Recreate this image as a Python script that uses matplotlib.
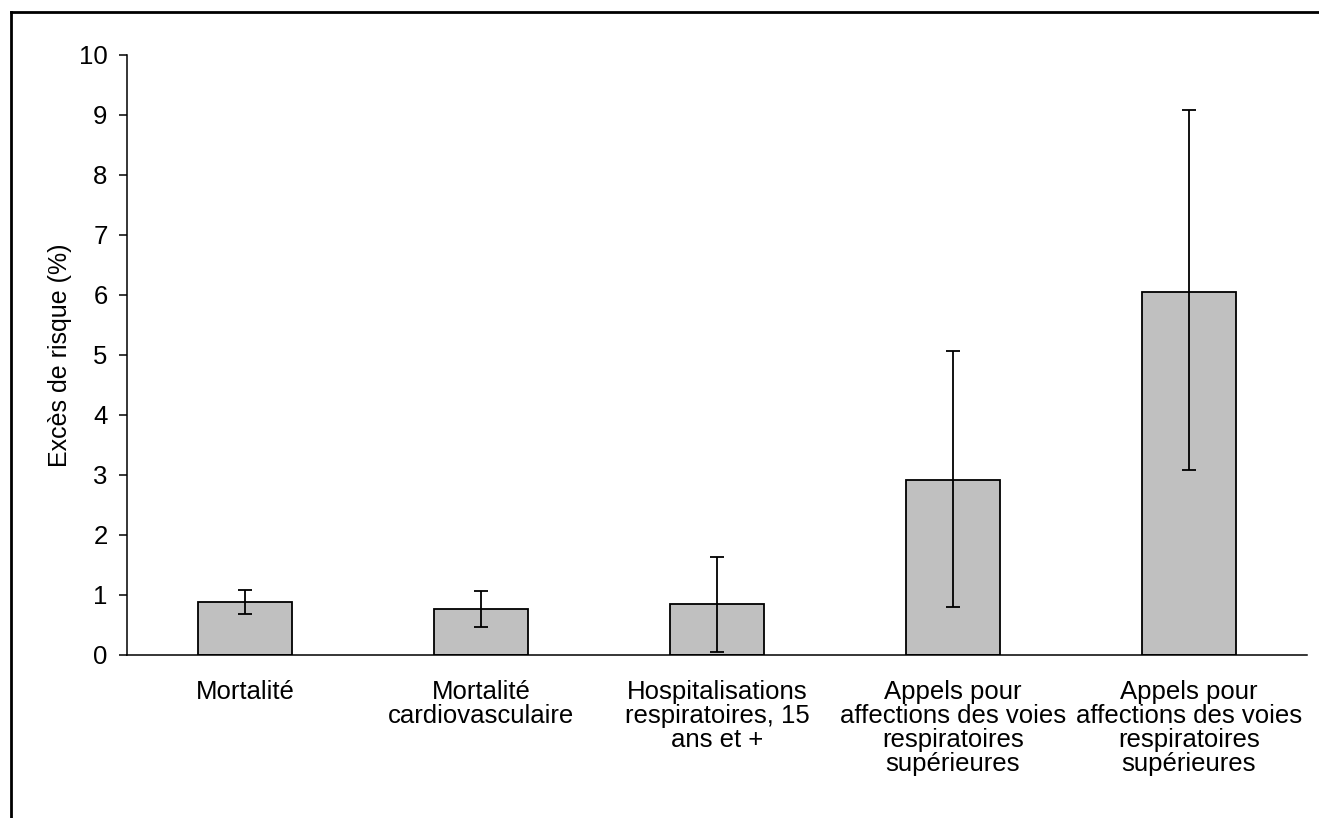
import matplotlib
matplotlib.use("Agg")
import matplotlib.pyplot as plt
from matplotlib.lines import Line2D
import numpy as np

plt.rcParams['font.family'] = ['Liberation Sans', 'DejaVu Sans']

# categories and values (excess risk, %)
categories = ['Mortalité',
              'Mortalité\ncardiovasculaire',
              'Hospitalisations\nrespiratoires, 15\nans et +',
              'Appels pour\naffections des voies\nrespiratoires\nsupérieures',
              'Appels pour\naffections des voies\nrespiratoires\nsupérieures']
excess = [0.88, 0.77, 0.845, 2.92, 6.05]
ci_low = [0.68, 0.47, 0.055, 0.795, 3.08]
ci_high = [1.08, 1.07, 1.63, 5.07, 9.08]

x = np.arange(len(categories))
err = [np.array(excess) - np.array(ci_low), np.array(ci_high) - np.array(excess)]

fig = plt.figure(figsize=(13.19, 8.18), dpi=100)
ax = fig.add_axes([0.0963, 0.1993, 0.8944, 0.7335])

ax.bar(x, excess, width=0.40, color='#c0c0c0', edgecolor='black', linewidth=1.3,
       yerr=err, capsize=5, error_kw=dict(elinewidth=1.3, capthick=1.3, ecolor='black'))

ax.set_xlim(-0.5, len(categories) - 0.5)
ax.set_ylim(0, 10)
ax.set_yticks(range(0, 11))
ax.set_xticks(x)
ax.set_xticklabels(categories, fontsize=18.5, linespacing=1.0)
ax.tick_params(axis='x', length=0, pad=18)
ax.tick_params(axis='y', labelsize=18.5, length=6, width=1.1, direction='out', pad=8)
ax.set_ylabel('Excès de risque (%)', fontsize=18, labelpad=5)

for side in ['top', 'right']:
    ax.spines[side].set_visible(False)
for side in ['left', 'bottom']:
    ax.spines[side].set_linewidth(1.1)

# outer frame (top and left edges)
fig.add_artist(Line2D([0.0083, 1.0], [0.9853, 0.9853], color='black', linewidth=2, transform=fig.transFigure))
fig.add_artist(Line2D([0.0083, 0.0083], [0.0, 0.9853], color='black', linewidth=2, transform=fig.transFigure))

fig.savefig('out.png', dpi=100)
